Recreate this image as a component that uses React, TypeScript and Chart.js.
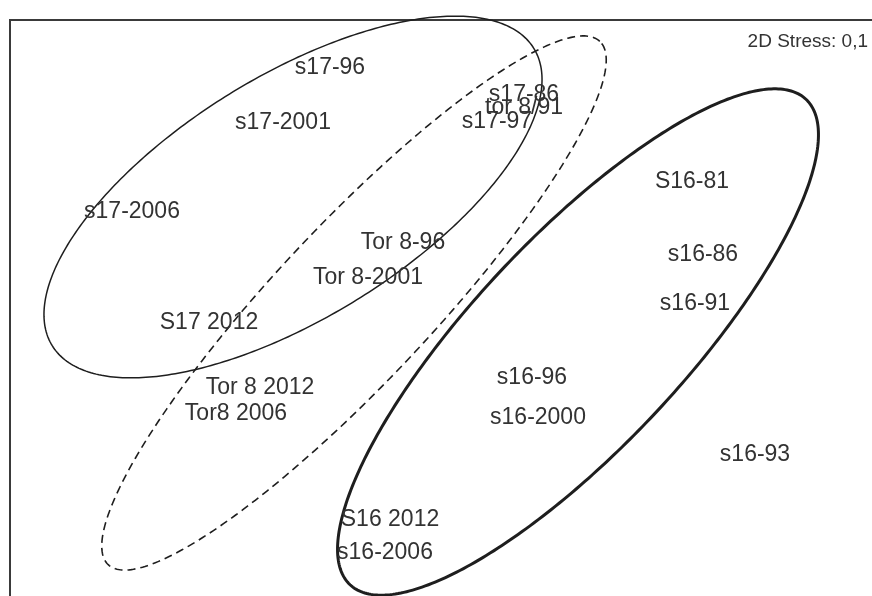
import React, { useEffect, useRef } from "react";
import { Chart, registerables } from "chart.js";

Chart.register(...registerables);

// Sample labels and NMDS coordinates (arbitrary units)
const sampleLabels = [
  "s17-96", "s17-2001", "s17-2006", "s17-86", "tor 8/91", "s17-97",
  "Tor 8-96", "Tor 8-2001", "S17 2012", "Tor 8 2012", "Tor8 2006",
  "S16-81", "s16-86", "s16-91", "s16-96", "s16-2000", "s16-93",
  "S16 2012", "s16-2006",
];
const xValues = [
  3.20, 2.73, 1.22, 5.14, 5.14, 4.87,
  3.93, 3.58, 1.99, 2.50, 2.26,
  6.82, 6.93, 6.85, 5.22, 5.28, 7.45,
  3.80, 3.75,
];
const yValues = [
  5.28, 4.73, 3.84, 5.01, 4.88, 4.74,
  3.53, 3.18, 2.73, 2.08, 1.82,
  4.14, 3.41, 2.92, 2.18, 1.78, 1.41,
  0.76, 0.43,
];

// Group ellipses: centre, semi-axes, rotation (degrees)
const ellipseCx = [2.83, 3.44, 5.68];
const ellipseCy = [3.99, 2.93, 2.54];
const ellipseA = [2.83, 3.59, 3.33];
const ellipseB = [1.21, 0.78, 1.05];
const ellipseAngle = [31.7, 46.8, 46.8];

const stressText = "2D Stress: 0,1";

const X_MAX = 8.62;
const Y_MAX = 5.76;

const ellipseStyle = [
  { width: 1.5, dash: [] as number[] },
  { width: 1.6, dash: [8, 5] },
  { width: 3, dash: [] as number[] },
];

export default function App() {
  const ref = useRef<HTMLCanvasElement>(null);
  useEffect(() => {
    if (!ref.current) return;
    const overlay = {
      id: "overlay",
      beforeDraw(chart: any) {
        const { ctx, chartArea } = chart;
        ctx.save();
        ctx.fillStyle = "#ffffff";
        ctx.fillRect(0, 0, chart.width, chart.height);
        ctx.strokeStyle = "#3a3a3a";
        ctx.lineWidth = 2;
        ctx.beginPath();
        ctx.moveTo(chartArea.left, chart.height);
        ctx.lineTo(chartArea.left, chartArea.top);
        ctx.lineTo(chart.width, chartArea.top);
        ctx.stroke();
        ctx.restore();
      },
      afterDatasetsDraw(chart: any) {
        const { ctx } = chart;
        const xs = chart.scales.x;
        const ys = chart.scales.y;
        ctx.save();
        // ellipses
        for (let i = 0; i < ellipseCx.length; i++) {
          const th = (ellipseAngle[i] * Math.PI) / 180;
          ctx.beginPath();
          for (let k = 0; k <= 360; k++) {
            const t = (k * Math.PI) / 180;
            const dx = ellipseA[i] * Math.cos(th) * Math.cos(t) - ellipseB[i] * Math.sin(th) * Math.sin(t);
            const dy = ellipseA[i] * Math.sin(th) * Math.cos(t) + ellipseB[i] * Math.cos(th) * Math.sin(t);
            const px = xs.getPixelForValue(ellipseCx[i] + dx);
            const py = ys.getPixelForValue(ellipseCy[i] + dy);
            if (k === 0) ctx.moveTo(px, py);
            else ctx.lineTo(px, py);
          }
          ctx.closePath();
          ctx.lineWidth = ellipseStyle[i].width;
          ctx.setLineDash(ellipseStyle[i].dash);
          ctx.strokeStyle = "#1e1e1e";
          ctx.stroke();
        }
        ctx.setLineDash([]);
        // labels
        const meta = chart.getDatasetMeta(0);
        ctx.fillStyle = "#333333";
        ctx.font = "23px 'Liberation Sans', Arial, sans-serif";
        ctx.textAlign = "center";
        ctx.textBaseline = "middle";
        meta.data.forEach((pt: any, i: number) => {
          ctx.fillText(sampleLabels[i], pt.x, pt.y);
        });
        ctx.font = "19px 'Liberation Sans', Arial, sans-serif";
        ctx.textAlign = "right";
        ctx.fillText(stressText, chart.width - 4, chart.chartArea.top + 22);
        ctx.restore();
      },
    };
    const chart = new Chart(ref.current, {
      type: "scatter",
      data: {
        datasets: [
          {
            data: xValues.map((x, i) => ({ x, y: yValues[i] })),
            pointRadius: 0,
            pointHoverRadius: 0,
          },
        ],
      },
      options: {
        animation: false,
        responsive: true,
        maintainAspectRatio: false,
        events: [],
        layout: { padding: { left: 10, top: 20, right: 0, bottom: 0 } },
        plugins: { legend: { display: false }, tooltip: { enabled: false } },
        scales: {
          x: { type: "linear", min: 0, max: X_MAX, display: false },
          y: { type: "linear", min: 0, max: Y_MAX, display: false },
        },
      },
      plugins: [overlay],
    });
    return () => chart.destroy();
  }, []);
  return (
    <div style={{ position: "fixed", left: 0, top: 0, width: 872, height: 596, background: "#fff" }}>
      <canvas ref={ref} />
    </div>
  );
}
